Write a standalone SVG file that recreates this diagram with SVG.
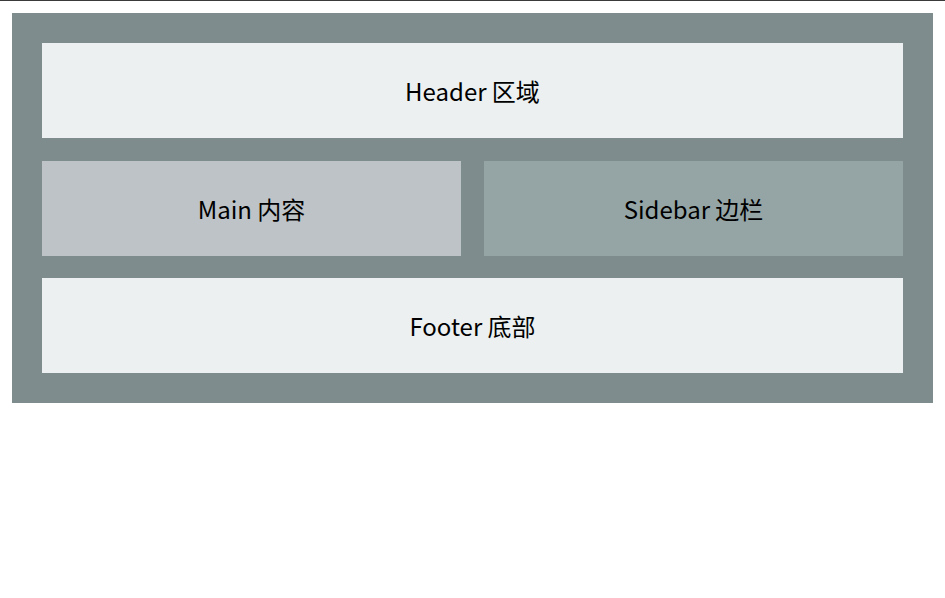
<svg xmlns="http://www.w3.org/2000/svg" width="945" height="598" viewBox="0 0 945 598">
<style>
.lbl{font-family:"Noto Sans CJK SC","Noto Sans",sans-serif;font-size:24px;fill:#000;text-anchor:middle}
</style>
<rect x="0" y="0" width="945" height="598" fill="#ffffff"/>
<rect x="0" y="0" width="945" height="1" fill="#3a3a3a"/>
<g id="container"><rect x="12" y="13" width="921" height="390" fill="#7f8c8d"/></g>
<g id="header"><rect x="42" y="43" width="861" height="95" fill="#ecf0f1"/><text class="lbl" x="472.5" y="100.5">Header 区域</text></g>
<g id="main"><rect x="42" y="161" width="419" height="95" fill="#bdc3c7"/><text class="lbl" x="251.5" y="218.5">Main 内容</text></g>
<g id="sidebar"><rect x="484" y="161" width="419" height="95" fill="#95a5a6"/><text class="lbl" x="693.5" y="218.5">Sidebar 边栏</text></g>
<g id="footer"><rect x="42" y="278" width="861" height="95" fill="#ecf0f1"/><text class="lbl" x="472.5" y="335.5">Footer 底部</text></g>
<g id="connectors"></g>
</svg>
